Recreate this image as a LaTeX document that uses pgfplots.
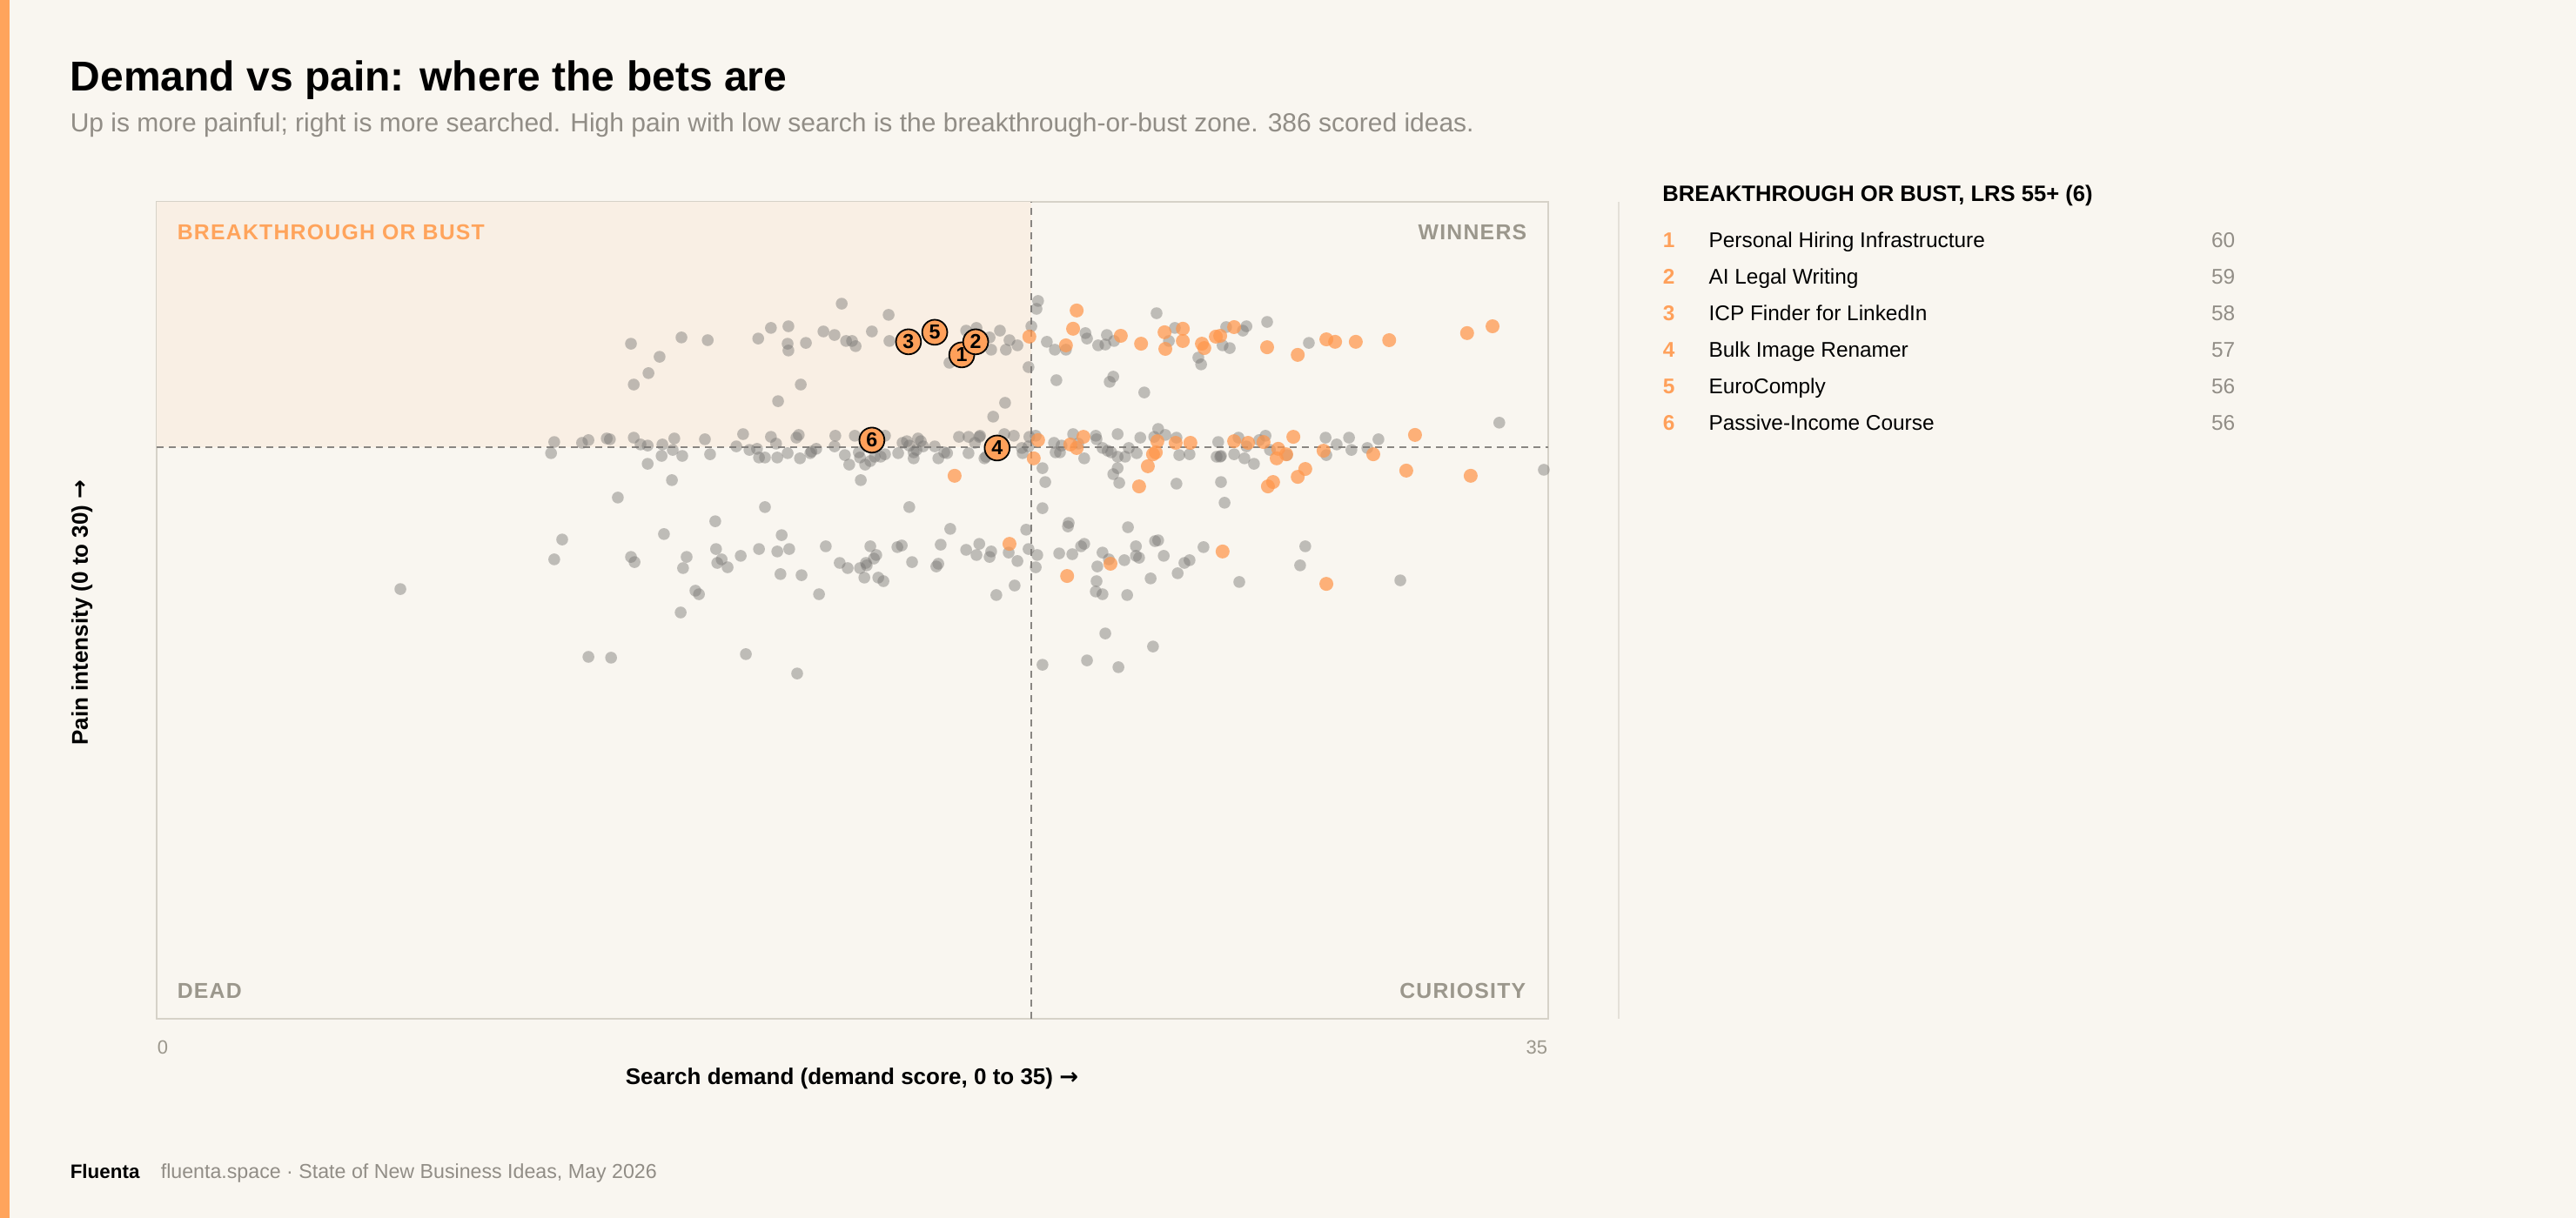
\documentclass[border=0pt]{standalone}
\usepackage{pgfplots}
\pgfplotsset{compat=1.18}
\usepackage{pgfplotstable}
\usepackage{fontspec}
\setmainfont{Liberation Sans}
\newfontfamily\trackfont[LetterSpace=5.0]{Liberation Sans}
\newfontfamily\arrowfont{DejaVu Sans}
\newcommand\rarr{{\arrowfont\bfseries →}}

\definecolor{paper}{RGB}{249,246,240}
\definecolor{accent}{RGB}{255,164,92}
\definecolor{dotorange}{RGB}{255,150,75}
\definecolor{markorange}{RGB}{255,160,90}
\definecolor{dotgray}{RGB}{120,118,115}
\definecolor{zonefill}{RGB}{249,239,228}
\definecolor{framegray}{RGB}{214,210,200}
\definecolor{rulegray}{RGB}{137,134,130}
\definecolor{quadgray}{RGB}{155,151,140}
\definecolor{subgray}{RGB}{145,141,134}
\definecolor{sepgray}{RGB}{228,224,216}

% demand score, pain intensity
\pgfplotstableread{
x y
17.23 26.26
18.41 25.85
15.45 25.37
15.89 25.43
15.13 24.98
13.20 25.02
13.86 24.92
11.93 24.79
15.87 24.79
15.89 24.54
16.33 24.82
16.77 25.24
17.05 25.11
17.34 24.89
17.49 24.89
17.58 24.70
17.99 25.24
18.43 24.89
20.36 25.27
20.62 25.37
20.95 25.02
20.99 24.57
21.21 25.27
21.36 24.57
21.45 24.92
19.94 24.09
12.65 24.31
12.37 23.71
12.00 23.29
16.20 23.29
15.63 22.68
21.34 22.62
21.04 22.11
22.17 26.36
22.13 26.07
22.00 25.43
21.65 24.73
21.93 23.93
22.39 24.86
22.59 24.57
22.87 24.57
23.36 25.18
23.40 24.98
23.68 24.73
23.86 24.76
23.90 25.11
24.08 24.89
25.15 25.91
25.46 24.89
25.61 25.37
26.20 24.28
26.27 24.03
26.81 24.73
26.99 24.63
26.90 25.40
27.32 25.27
27.41 25.43
27.93 25.59
28.98 24.82
22.63 23.45
23.97 23.39
24.06 23.58
24.84 23.00
33.77 21.89
10.00 21.18
9.92 20.77
10.70 21.15
10.86 21.25
11.32 21.31
11.40 21.28
12.00 21.34
12.17 21.09
12.35 21.05
12.72 21.09
13.02 21.31
12.98 20.89
12.70 20.67
13.22 20.67
12.35 20.38
12.96 19.78
11.60 19.14
13.79 21.28
13.92 20.73
14.75 21.47
14.58 21.02
14.91 20.89
15.10 20.93
15.15 20.61
15.30 20.61
15.61 20.61
15.45 21.37
15.58 21.12
15.87 20.77
16.09 21.34
16.15 21.44
16.18 20.58
16.44 20.77
16.47 20.83
16.59 20.93
17.07 21.41
17.05 21.02
17.31 20.70
17.42 20.35
17.56 21.41
17.66 20.80
17.69 20.61
17.82 20.35
17.71 19.78
15.30 18.79
14.05 18.27
17.95 20.48
18.06 20.64
18.21 20.64
18.32 20.73
18.32 21.41
18.65 20.77
18.76 21.15
18.87 21.21
18.93 21.05
19.04 20.80
19.04 20.58
19.11 20.89
19.15 21.31
19.22 21.21
19.28 21.02
19.57 21.02
19.66 20.58
19.81 20.80
19.88 20.77
20.18 21.37
20.42 21.37
20.42 20.77
20.58 21.15
20.69 21.37
20.71 21.41
20.82 20.58
20.86 20.64
21.32 21.47
21.56 21.41
21.76 20.96
21.78 20.77
21.93 21.02
21.95 21.37
22.11 21.41
22.28 20.22
22.35 19.71
22.28 18.75
22.94 18.21
18.93 18.79
22.57 21.15
22.61 20.80
22.72 20.80
22.76 21.05
23.05 21.47
23.18 21.12
23.33 20.58
23.62 21.41
23.64 21.28
24.17 21.47
23.79 20.96
23.92 20.86
24.01 20.80
24.17 20.64
24.36 20.64
24.45 20.96
24.65 20.77
24.74 21.34
24.17 20.22
24.06 20.00
24.21 19.68
25.09 21.37
25.19 21.66
25.37 21.44
25.65 21.34
25.72 20.70
25.98 20.73
25.65 19.65
26.66 20.64
26.70 21.18
26.75 20.64
26.77 20.67
27.21 21.34
27.10 20.73
27.36 20.58
27.41 21.02
27.60 20.38
27.73 21.25
27.89 21.41
28.00 20.89
28.43 20.70
26.77 19.71
26.86 18.95
29.40 21.34
29.42 20.70
29.68 21.09
29.99 21.34
30.05 20.89
30.45 20.96
30.73 21.28
34.89 20.16
19.96 17.99
10.20 17.60
12.76 17.80
15.72 17.76
10.00 16.87
11.93 16.96
12.02 16.77
13.33 16.96
13.24 16.55
14.07 17.25
14.10 16.74
14.21 16.87
14.36 16.58
14.69 17.00
15.15 17.25
15.61 17.16
15.91 17.25
15.69 16.33
16.22 16.29
16.83 17.35
17.18 16.74
17.38 16.55
17.69 16.55
17.86 16.65
17.84 16.74
18.04 16.90
18.10 17.03
17.95 17.35
17.80 16.20
18.15 16.20
18.28 16.07
18.63 17.32
18.74 17.38
19.00 16.77
19.61 16.61
19.66 16.71
19.72 17.41
20.36 17.22
20.62 17.03
20.69 17.44
20.95 16.96
20.99 17.16
21.43 17.12
16.66 15.59
13.55 15.72
13.64 15.59
13.18 14.92
6.13 15.78
21.12 15.56
21.58 15.91
10.86 13.29
11.43 13.26
14.82 13.39
16.11 12.68
21.87 17.96
22.92 18.08
24.43 18.05
21.65 16.81
21.93 17.25
22.15 17.03
22.11 16.58
22.70 17.09
23.03 17.06
23.25 17.35
23.33 17.44
23.79 17.12
23.95 16.87
23.66 16.61
24.34 16.84
24.63 17.35
24.63 17.00
24.71 16.93
25.11 17.54
25.19 17.57
25.33 17.00
25.85 16.74
25.98 16.84
26.33 17.32
28.89 17.35
28.76 16.65
23.64 16.07
23.62 15.69
23.79 15.59
24.41 15.56
25.00 16.17
25.68 16.36
27.23 16.04
31.28 16.10
23.86 14.15
25.06 13.67
22.28 13.00
23.40 13.16
24.19 12.91
}\otherideas

\pgfplotstableread{
x y
21.95 25.05
23.14 26.01
23.05 25.34
22.87 24.73
24.25 25.08
24.76 24.79
25.35 25.21
25.37 24.60
25.81 25.34
25.81 24.89
26.29 24.79
26.35 24.63
26.64 25.05
26.75 25.08
27.10 25.40
27.93 24.66
28.70 24.38
29.42 24.95
29.64 24.86
30.16 24.86
31.00 24.92
32.96 25.18
33.60 25.43
20.07 19.94
22.17 21.25
22.06 20.58
22.98 21.09
23.14 20.96
23.31 21.37
24.93 20.29
24.71 19.55
25.06 20.73
25.13 20.80
25.17 21.21
25.63 21.15
26.00 21.15
27.10 21.21
27.45 21.15
27.84 21.18
28.21 20.93
28.17 20.58
28.41 20.73
28.59 21.37
28.89 20.19
28.70 19.90
28.08 19.71
27.95 19.55
29.35 20.86
30.60 20.73
31.65 21.44
31.43 20.13
33.05 19.94
21.45 17.44
23.99 16.71
26.81 17.16
22.90 16.26
29.42 15.97
}\topideas

\pgfplotstableread{
x y n
20.25 24.38 1
20.60 24.86 2
18.91 24.86 3
21.14 20.96 4
19.57 25.21 5
17.99 21.25 6
}\bustpicks

\begin{document}
\begin{tikzpicture}[x=1pt,y=1pt]
% page
\fill[paper] (0,0) rectangle (740,350);
\fill[accent] (0,0) rectangle (2.8,350);

% heading
\node[anchor=base west, inner sep=0, font=\bfseries\fontsize{12}{14}\selectfont]
  at (20,323.75) {Demand vs pain: where the bets are};
\node[anchor=base west, inner sep=0, text=subgray, font=\fontsize{7.5}{9}\selectfont]
  at (20,312.1) {Up is more painful; right is more searched. High pain with low search is the breakthrough-or-bust zone. 386 scored ideas.};

\begin{axis}[
  at={(45pt,57.25pt)}, anchor=south west,
  scale only axis, width=399.75pt, height=234.75pt,
  xmin=0, xmax=35, ymin=0, ymax=30,
  xtick=\empty, ytick=\empty,
  axis line style={framegray, line width=0.6pt},
  clip=true,
]
  % high pain, low search zone
  \addplot[draw=none, fill=zonefill] coordinates {(0,21) (22,21) (22,30) (0,30)} -- cycle;
  % thresholds
  \addplot[rulegray, line width=0.45pt, dash pattern=on 2pt off 1.5pt] coordinates {(22,0) (22,30)};
  \addplot[rulegray, line width=0.45pt, dash pattern=on 2pt off 1.5pt] coordinates {(0,21) (35,21)};
  % all scored ideas
  \addplot[only marks, mark=*, mark size=1.7pt,
    mark options={fill=dotgray, fill opacity=0.45, draw opacity=0}] table {\otherideas};
  \addplot[only marks, mark=*, mark size=2pt,
    mark options={fill=dotorange, fill opacity=0.72, draw opacity=0}] table {\topideas};
  % breakthrough-or-bust picks
  \addplot[only marks, mark=*, mark size=3.6pt,
    mark options={draw=black, line width=0.45pt, fill=markorange},
    point meta=explicit symbolic,
    nodes near coords,
    nodes near coords style={anchor=center, inner sep=0, text=black,
      font=\bfseries\fontsize{5.8}{6}\selectfont}]
    table[meta=n] {\bustpicks};
\end{axis}

% quadrant names
\node[anchor=base west, inner sep=0, text=accent, font=\trackfont\bfseries\fontsize{6.2}{7}\selectfont]
  at (50.75,281) {BREAKTHROUGH OR BUST};
\node[anchor=base east, inner sep=0, text=quadgray, font=\trackfont\bfseries\fontsize{6.2}{7}\selectfont]
  at (438.75,281) {WINNERS};
\node[anchor=base west, inner sep=0, text=quadgray, font=\trackfont\bfseries\fontsize{6.2}{7}\selectfont]
  at (50.75,63.1) {DEAD};
\node[anchor=base east, inner sep=0, text=quadgray, font=\trackfont\bfseries\fontsize{6.2}{7}\selectfont]
  at (438.5,63.1) {CURIOSITY};

% axis ends and titles
\node[anchor=base west, inner sep=0, text=quadgray, font=\fontsize{5.5}{6}\selectfont] at (45,47.1) {0};
\node[anchor=base east, inner sep=0, text=quadgray, font=\fontsize{5.5}{6}\selectfont] at (444.75,47.1) {35};
\node[anchor=base, inner sep=0, font=\bfseries\fontsize{6.5}{8}\selectfont] at (244.75,38.3)
  {Search demand (demand score, 0 to 35) \rarr};
\node[anchor=base, rotate=90, inner sep=0, font=\bfseries\fontsize{6.5}{8}\selectfont] at (25.2,174)
  {Pain intensity (0 to 30) \rarr};

% side list
\draw[sepgray, line width=0.5pt] (465,57.25) -- (465,292);
\node[anchor=base west, inner sep=0, font=\bfseries\fontsize{6.4}{8}\selectfont] at (477.4,292.1)
  {BREAKTHROUGH OR BUST, LRS 55+ (6)};
\foreach \i/\name/\lrs [count=\k from 0] in {
    1/Personal Hiring Infrastructure/60,
    2/AI Legal Writing/59,
    3/ICP Finder for LinkedIn/58,
    4/Bulk Image Renamer/57,
    5/EuroComply/56,
    6/Passive-Income Course/56} {
  \pgfmathsetmacro\yy{278.75-10.5*\k}
  \node[anchor=base west, inner sep=0, text=markorange, font=\bfseries\fontsize{6.1}{7}\selectfont] at (477.5,\yy) {\i};
  \node[anchor=base west, inner sep=0, font=\fontsize{6.1}{7}\selectfont] at (490.7,\yy) {\name};
  \node[anchor=base east, inner sep=0, text=subgray, font=\fontsize{6.1}{7}\selectfont] at (642.25,\yy) {\lrs};
}

% footer
\node[anchor=base west, inner sep=0, font=\bfseries\fontsize{5.6}{7}\selectfont] at (20,11.25) {Fluenta};
\node[anchor=base west, inner sep=0, text=subgray, font=\fontsize{5.8}{7}\selectfont] at (46,11.25)
  {fluenta.space · State of New Business Ideas, May 2026};

\pgfresetboundingbox
\useasboundingbox (0,0) rectangle (740,350);
\end{tikzpicture}
\end{document}
